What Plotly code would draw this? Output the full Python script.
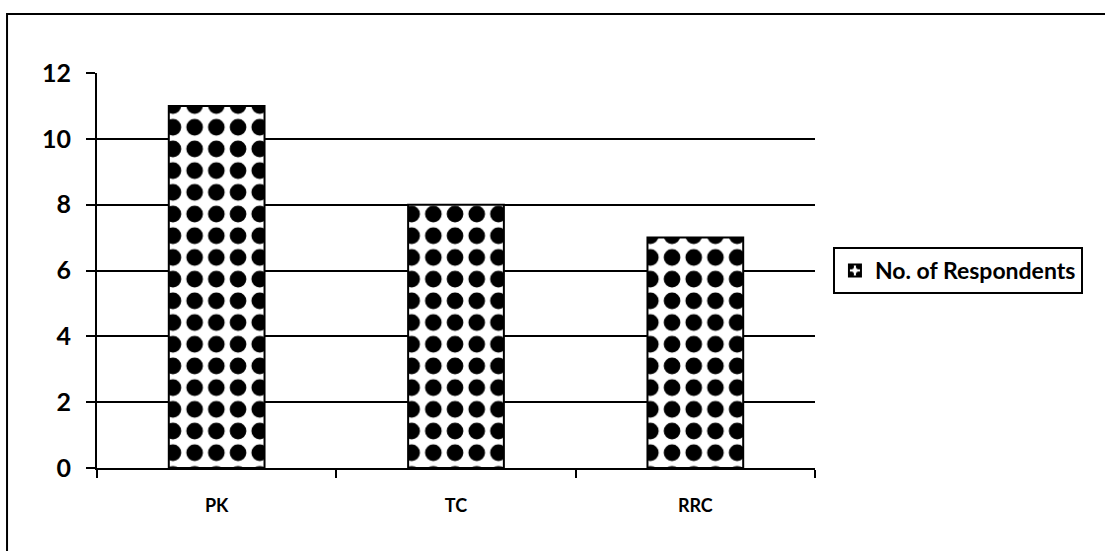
import plotly.graph_objects as go

# Respondents per category
categories = ["PK", "TC", "RRC"]
respondents = [11, 8, 7]
series_name = "No. of Respondents"
y_ticks = [0, 2, 4, 6, 8, 10, 12]

FONT = "Lato"

fig = go.Figure()
fig.add_trace(
    go.Bar(
        x=categories,
        y=respondents,
        name=series_name,
        showlegend=True,
        marker=dict(
            color="white",
            line=dict(color="black", width=2),
            pattern=dict(
                shape=".",
                fgcolor="black",
                bgcolor="white",
                size=21.7,
                solidity=0.46,
                fillmode="replace",
            ),
        ),
    )
)

fig.update_layout(
    width=1105,
    height=551,
    margin=dict(l=97, r=290, t=73, b=83),
    paper_bgcolor="white",
    plot_bgcolor="white",
    bargap=0.6,
    font=dict(family=FONT, color="black"),
    legend=dict(
        x=1.025,
        y=0.5,
        xanchor="left",
        yanchor="middle",
        bordercolor="black",
        borderwidth=2,
        bgcolor="white",
        font=dict(family=FONT, size=23, color="black", weight="bold"),
        itemwidth=30,
    ),
    showlegend=True,
)

fig.update_yaxes(
    range=[0, 12],
    tickvals=y_ticks,
    showgrid=True,
    gridcolor="black",
    gridwidth=2,
    showline=True,
    linecolor="black",
    linewidth=2,
    ticks="outside",
    ticklen=9,
    tickwidth=2,
    tickcolor="black",
    ticklabelstandoff=10,
    tickfont=dict(family=FONT, size=25, color="black", weight="bold"),
    zeroline=False,
)

fig.update_xaxes(
    range=[-0.5, 2.5],
    showline=True,
    linecolor="black",
    linewidth=2,
    ticks="outside",
    tickson="boundaries",
    ticklen=8,
    tickwidth=2,
    tickcolor="black",
    ticklabelstandoff=20,
    tickfont=dict(family=FONT, size=18, color="black", weight="bold"),
    showgrid=False,
)

# Outer chart frame
fig.add_shape(
    type="rect",
    xref="paper",
    yref="paper",
    x0=-0.1253,
    y0=-0.25,
    x1=1.45,
    y1=1.1494,
    line=dict(color="black", width=2),
    fillcolor="rgba(0,0,0,0)",
    layer="below",
)

fig.write_html("out.html")
